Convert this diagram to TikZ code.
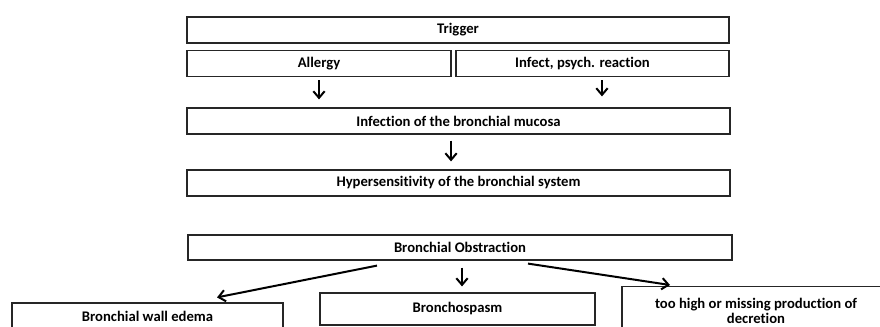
\documentclass[tikz,border=0pt]{standalone}
\usepackage{fontspec}
\setmainfont{Carlito}[Ligatures={NoCommon}]
\usetikzlibrary{arrows.meta,calc}
\begin{document}
\begin{tikzpicture}[x=0.75pt,y=-0.75pt,
  box/.style={draw=black!85,line width=0.9pt,inner sep=0pt,font=\bfseries\fontsize{11}{12.5}\selectfont,align=center},
  arr/.style={line width=1.5pt,-{Straight Barb[length=5pt,width=8.5pt,line width=1.5pt]}}]
\useasboundingbox (0,0) rectangle (880,327);
\clip (0,0) rectangle (880,327);
\node[box,minimum width=406.5pt,minimum height=19.5pt] (trig) at (458,30) {Trigger};
\node[box,minimum width=198pt,minimum height=20pt] (allergy) at (319,63.5) {Allergy};
\node[box,minimum width=204.75pt,minimum height=20pt] (infect) at (592.5,63.5) {\hspace*{-15pt}Infect, psych. reaction};
\node[box,minimum width=407.25pt,minimum height=19.5pt] (infection) at (458.5,121) {Infection of the bronchial mucosa};
\node[box,minimum width=407.25pt,minimum height=19.5pt] (hyper) at (458.5,183) {Hypersensitivity of the bronchial system};
\node[box,minimum width=408pt,minimum height=18.75pt] (obstr) at (460,247.5) {Bronchial Obstraction};
\node[box,minimum width=203.25pt,minimum height=19.5pt] (edema) at (147.5,316) {Bronchial wall edema};
\node[box,minimum width=206.25pt,minimum height=24pt] (spasm) at (457.5,309) {Bronchospasm};
\node[box,minimum width=201pt,minimum height=36pt,anchor=north] (decr) at (756,286) {too high or missing production of\\[-1pt]decretion};
\draw[arr,shorten <=2.25pt,shorten >=6pt] (allergy.south) -- (allergy.south |- infection.north);
\draw[arr,shorten <=2.25pt,shorten >=8.25pt] ([xshift=7.1pt]infect.south) -- ([xshift=7.1pt]infect.south |- infection.north);
\draw[arr,shorten <=4.5pt,shorten >=6pt] ([xshift=-5.6pt]infection.south) -- ([xshift=-5.6pt]infection.south |- hyper.north);
\draw[arr,shorten <=5.25pt,shorten >=4.5pt] ([xshift=1.5pt]obstr.south) -- ([xshift=1.5pt]obstr.south |- spasm.north);
\draw[arr] ($(obstr.south)+(-83,5)$) -- ($(edema.north)+(69.5,-5)$);
\draw[arr] ($(obstr.south)+(68,3)$) -- ($(decr.north)+(-86,-1)$);
\end{tikzpicture}
\end{document}
